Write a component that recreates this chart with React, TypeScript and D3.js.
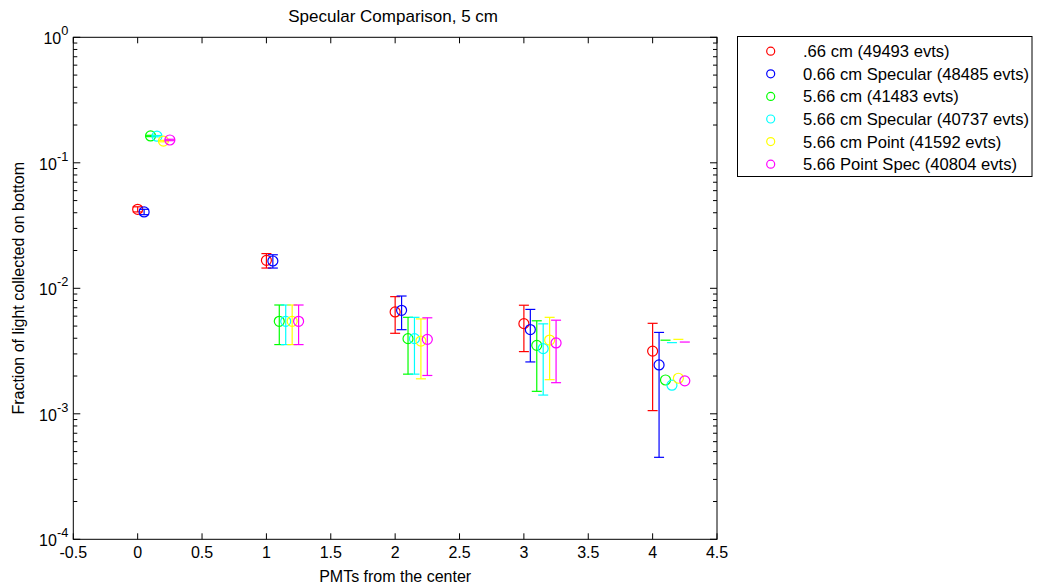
import React from 'react';
import * as d3 from 'd3';

const positions = [0, 1, 2, 3, 4];
const seriesNames = [
  '.66 cm (49493 evts)',
  '0.66 cm Specular (48485 evts)',
  '5.66 cm (41483 evts)',
  '5.66 cm Specular (40737 evts)',
  '5.66 cm Point (41592 evts)',
  '5.66 Point Spec (40804 evts)',
];
const seriesColors = ['#ff0000', '#0000ff', '#00ff00', '#00ffff', '#ffff00', '#ff00ff'];
const seriesOffsets = [0, 0.05, 0.1, 0.15, 0.2, 0.25];

const redValues = [0.0426, 0.0167, 0.00648, 0.00523, 0.00316];
const redErrors = [0.002, 0.0022, 0.0021, 0.0021, 0.0021];
const blueValues = [0.0406, 0.0165, 0.00668, 0.00469, 0.00245];
const blueErrors = [0.002, 0.002, 0.002, 0.0021, 0.002];
const greenValues = [0.1636, 0.00546, 0.00397, 0.00351, 0.00186];
const greenErrors = [0.002, 0.0019, 0.0019, 0.002, 0.002];
const cyanValues = [0.163, 0.00546, 0.00397, 0.00331, 0.00169];
const cyanErrors = [0.002, 0.0019, 0.0019, 0.0019, 0.002];
const yellowValues = [0.149, 0.00546, 0.0038, 0.00387, 0.00192];
const yellowErrors = [0.002, 0.0019, 0.0019, 0.002, 0.002];
const magentaValues = [0.152, 0.00546, 0.00392, 0.00367, 0.00183];
const magentaErrors = [0.002, 0.0019, 0.0019, 0.0019, 0.0019];

const xTicks = [-0.5, 0, 0.5, 1, 1.5, 2, 2.5, 3, 3.5, 4, 4.5];
const yExponents = [0, -1, -2, -3, -4];

const titleText = 'Specular Comparison, 5 cm';
const xLabel = 'PMTs from the center';
const yLabel = 'Fraction of light collected on bottom';

const valuesList = [redValues, blueValues, greenValues, cyanValues, yellowValues, magentaValues];
const errorsList = [redErrors, blueErrors, greenErrors, cyanErrors, yellowErrors, magentaErrors];

const FONT = 'Arial, "Liberation Sans", Helvetica, sans-serif';

export default function App() {
  const W = 1038, H = 586;
  const left = 73.3, right = 717, top = 37.3, bottom = 539.3;
  const x = d3.scaleLinear().domain([-0.5, 4.5]).range([left, right]);
  const y = d3.scaleLog().domain([1e-4, 1]).range([bottom, top]);
  const fs = 16;
  const cap = 5;
  const r = 5;

  const minorTicks: number[] = [];
  for (let e = -4; e < 0; e++) {
    for (let m = 2; m <= 9; m++) minorTicks.push(m * Math.pow(10, e));
  }

  const series = seriesNames.map((name, i) => ({
    name,
    color: seriesColors[i],
    points: positions.map((p, j) => ({
      x: p + seriesOffsets[i],
      v: valuesList[i][j],
      e: errorsList[i][j],
    })),
  }));

  const legX = 737.5, legY = 36.5, legW = 294.5, legH = 140;
  const legRow0 = 51.2, legStep = 22.6;

  return (
    <svg width={W} height={H} style={{ position: 'absolute', left: 0, top: 0, background: '#fff' }}
      fontFamily={FONT}>
      <rect x={0} y={0} width={W} height={H} fill="#fff" />
      {/* title */}
      <text x={(left + right) / 2 - 2} y={22} textAnchor="middle" fontSize={17} fill="#000">{titleText}</text>

      {/* axes box */}
      <rect x={left} y={top} width={right - left} height={bottom - top} fill="none" stroke="#000" strokeWidth={1} />

      {/* x ticks */}
      {xTicks.map((t) => (
        <g key={'xt' + t}>
          <line x1={x(t)} x2={x(t)} y1={bottom} y2={bottom - 6} stroke="#000" />
          <line x1={x(t)} x2={x(t)} y1={top} y2={top + 6} stroke="#000" />
          <text x={x(t)} y={bottom + 19} textAnchor="middle" fontSize={fs} fill="#000">{String(t)}</text>
        </g>
      ))}

      {/* y ticks */}
      {yExponents.map((e) => {
        const yy = y(Math.pow(10, e));
        return (
          <g key={'yt' + e}>
            <line x1={left} x2={left + 7} y1={yy} y2={yy} stroke="#000" />
            <line x1={right} x2={right - 7} y1={yy} y2={yy} stroke="#000" />
            <text x={left - 5} y={yy + 7} textAnchor="end" fontSize={fs} fill="#000">
              <tspan>10</tspan>
              <tspan dy={-9} fontSize={fs * 0.8}>{String(e)}</tspan>
            </text>
          </g>
        );
      })}
      {minorTicks.map((t, i) => (
        <g key={'ym' + i}>
          <line x1={left} x2={left + 4} y1={y(t)} y2={y(t)} stroke="#000" />
          <line x1={right} x2={right - 4} y1={y(t)} y2={y(t)} stroke="#000" />
        </g>
      ))}

      {/* axis labels */}
      <text x={(left + right) / 2} y={582} textAnchor="middle" fontSize={fs} fill="#000">{xLabel}</text>
      <text transform={`translate(24,${(top + bottom) / 2}) rotate(-90)`} textAnchor="middle" fontSize={fs} fill="#000">{yLabel}</text>

      {/* data */}
      {series.map((s) => (
        <g key={s.name}>
          {s.points.map((p, j) => {
            const cx = x(p.x);
            const cy = y(p.v);
            const yTop = y(p.v + p.e);
            const hasLow = p.v - p.e > 0;
            const yLow = hasLow ? y(p.v - p.e) : 0;
            return (
              <g key={j}>
                {hasLow && <line x1={cx} x2={cx} y1={yTop} y2={yLow} stroke={s.color} strokeWidth={1.2} />}
                <line x1={cx - cap} x2={cx + cap} y1={yTop} y2={yTop} stroke={s.color} strokeWidth={1.2} />
                {hasLow && <line x1={cx - cap} x2={cx + cap} y1={yLow} y2={yLow} stroke={s.color} strokeWidth={1.2} />}
                <circle cx={cx} cy={cy} r={r} fill="none" stroke={s.color} strokeWidth={1.2} />
              </g>
            );
          })}
        </g>
      ))}

      {/* legend */}
      <rect x={legX} y={legY} width={legW} height={legH} fill="#fff" stroke="#000" strokeWidth={1} />
      {series.map((s, i) => {
        const ly = legRow0 + i * legStep;
        return (
          <g key={'lg' + i}>
            <circle cx={770.7} cy={ly} r={4} fill="none" stroke={s.color} strokeWidth={1.2} />
            <text x={803} y={ly + 6} fontSize={16.6} fill="#000">{s.name}</text>
          </g>
        );
      })}
    </svg>
  );
}
